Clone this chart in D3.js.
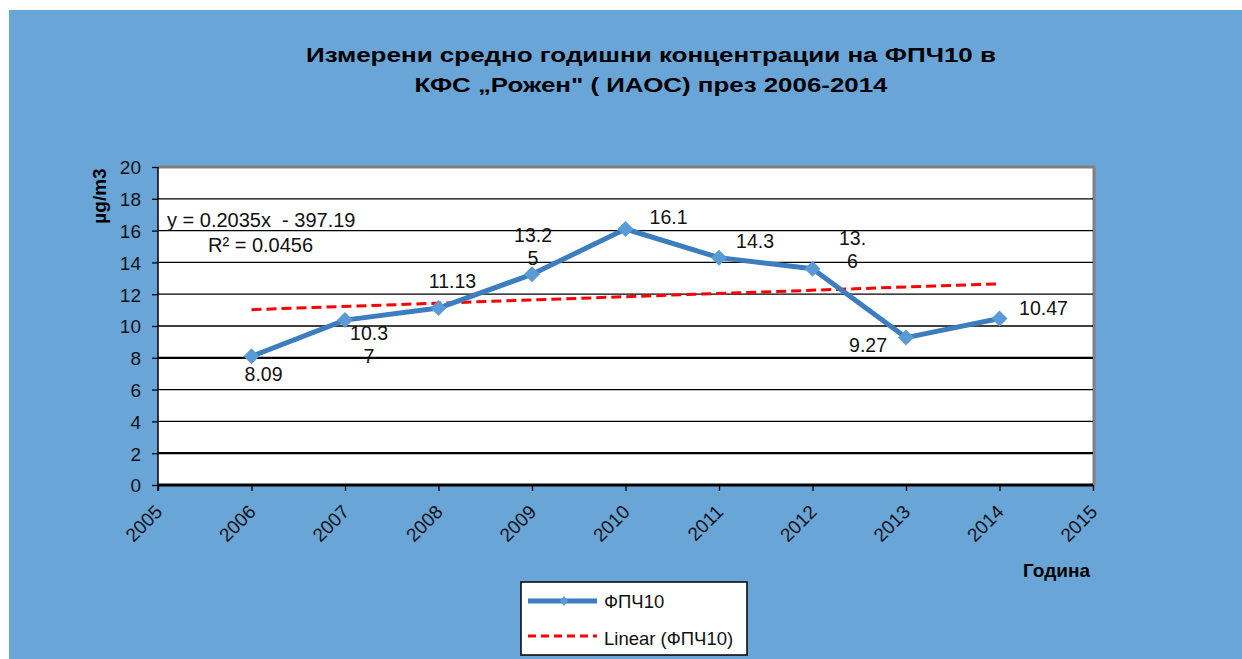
<!DOCTYPE html>
<html>
<head>
<meta charset="utf-8">
<script src="https://cdn.jsdelivr.net/npm/d3@7"></script>
<style>
  body { margin: 0; background: #fff; }
  text { font-family: "Liberation Sans", Arial, sans-serif; }
</style>
</head>
<body>
<script>
var width = 1242,
    height = 659;

var years = [2006, 2007, 2008, 2009, 2010, 2011, 2012, 2013, 2014];
var values = [8.09, 10.37, 11.13, 13.25, 16.1, 14.3, 13.6, 9.27, 10.47];
// labels as Excel wrapped them
var labelLines = [['8.09'], ['10.3', '7'], ['11.13'], ['13.2', '5'], ['16.1'], ['14.3'], ['13.', '6'], ['9.27'], ['10.47']];
var labelOffsets = [[12, 25], [24, 20], [14, -20], [1, -32], [43, -5], [36, -10], [40, -24], [-38, 14], [44, -4]];
var xTicks = [2005, 2006, 2007, 2008, 2009, 2010, 2011, 2012, 2013, 2014, 2015];
var yTicks = [0, 2, 4, 6, 8, 10, 12, 14, 16, 18, 20];
var titleLines = ['Измерени средно годишни концентрации на ФПЧ10 в', 'КФС „Рожен" ( ИАОС) през 2006-2014'];

var svg = d3.select('body')
    .append('svg')
    .attr('width', width)
    .attr('height', height)

svg.append('rect')
  .attr('x', 9).attr('y', 10)
  .attr('width', width - 9).attr('height', height - 10)
  .attr('fill', '#69a5d7');

var x = d3.scaleLinear().domain([2005, 2015]).range([158, 1093]);
var y = d3.scaleLinear().domain([0, 20]).range([485, 167]);

// title
svg.selectAll('.title')
  .data(titleLines)
  .enter().append('text')
  .attr('x', 651)
  .attr('y', function(d, i) { return 62 + i * 30; })
  .attr('text-anchor', 'middle')
  .attr('font-size', 21)
  .attr('font-weight', 'bold')
  .attr('textLength', function(d, i) { return i == 0 ? 690 : 473; })
  .attr('lengthAdjust', 'spacingAndGlyphs')
  .text(function(d) { return d; });

// plot area
svg.append('rect')
  .attr('x', x(2005)).attr('y', y(20))
  .attr('width', x(2015) - x(2005)).attr('height', y(0) - y(20))
  .attr('fill', '#fff');

svg.append('path')
  .attr('d', 'M' + x(2005) + ',' + y(20) + 'H' + (x(2015) + 1) + 'V' + y(0))
  .attr('fill', 'none')
  .attr('stroke', '#808080')
  .attr('stroke-width', 3);

svg.selectAll('.grid')
  .data(yTicks.slice(1, -1))
  .enter().append('line')
  .attr('x1', x(2005)).attr('x2', x(2015))
  .attr('y1', function(d) { return y(d); })
  .attr('y2', function(d) { return y(d); })
  .attr('stroke', '#000')
  .attr('stroke-width', function(d) { return d == 8 || d == 2 ? 2.2 : 1.3; });

// axes
var yAxis = svg.append('g')
  .attr('transform', 'translate(' + x(2005) + ',0)')
  .call(d3.axisLeft(y).tickValues(yTicks).tickSize(6).tickPadding(11).tickFormat(d3.format('d')));
yAxis.select('.domain').attr('stroke-width', 1.5).attr('d', 'M0,' + y(20) + 'V' + (y(0) + 6));
yAxis.selectAll('.tick line').attr('stroke-width', 1.3);
yAxis.selectAll('text').attr('font-size', 19).attr('fill', '#111').attr('font-family', '"Liberation Sans", Arial').attr('dy', '0.36em');

var xAxis = svg.append('g')
  .attr('transform', 'translate(0,' + y(0) + ')')
  .call(d3.axisBottom(x).tickValues(xTicks).tickSize(6).tickFormat(d3.format('d')));
xAxis.select('.domain').attr('stroke-width', 3).attr('d', 'M' + x(2005) + ',0H' + x(2015));
xAxis.selectAll('.tick line').attr('stroke-width', 1.3);
xAxis.selectAll('text')
  .attr('font-size', 19)
  .attr('fill', '#111')
  .attr('font-family', '"Liberation Sans", Arial')
  .attr('text-anchor', 'end')
  .attr('y', 0)
  .attr('dy', 0)
  .attr('transform', 'translate(5,28) rotate(-45)');

// axis titles
svg.append('text')
  .attr('transform', 'translate(106,196) rotate(-90)')
  .attr('text-anchor', 'middle')
  .attr('font-size', 19)
  .attr('font-weight', 'bold')
  .text('µg/m3');

svg.append('text')
  .attr('x', 1090).attr('y', 577)
  .attr('text-anchor', 'end')
  .attr('font-size', 19)
  .attr('font-weight', 'bold')
  .text('Година');

// linear trend
var xm = d3.mean(years), ym = d3.mean(values);
var slope = d3.sum(years, function(d, i) { return (d - xm) * (values[i] - ym); }) /
            d3.sum(years, function(d) { return (d - xm) * (d - xm); });
var intercept = ym - slope * xm;

svg.append('line')
  .attr('x1', x(years[0])).attr('y1', y(slope * years[0] + intercept))
  .attr('x2', x(years[years.length - 1])).attr('y2', y(slope * years[years.length - 1] + intercept))
  .attr('stroke', '#ff0000')
  .attr('stroke-width', 3)
  .attr('stroke-dasharray', '10,5');

svg.append('text')
  .attr('x', 167).attr('y', 227)
  .attr('font-size', 20)
  .attr('fill', '#111')
  .attr('xml:space', 'preserve')
  .text('y = 0.2035x  - 397.19');
svg.append('text')
  .attr('x', 208).attr('y', 252)
  .attr('font-size', 20)
  .attr('fill', '#111')
  .text('R² = 0.0456');

// series
var line = d3.line()
  .x(function(d, i) { return x(years[i]); })
  .y(function(d) { return y(d); });

svg.append('path')
  .datum(values)
  .attr('d', line)
  .attr('fill', 'none')
  .attr('stroke', '#3c7dbf')
  .attr('stroke-width', 5)
  .attr('stroke-linejoin', 'round');

var diamond = d3.symbol().type(d3.symbolSquare).size(128);
svg.selectAll('.pt')
  .data(values)
  .enter().append('path')
  .attr('d', diamond)
  .attr('transform', function(d, i) { return 'translate(' + x(years[i]) + ',' + y(d) + ') rotate(45)'; })
  .attr('fill', '#5b9bd5');

// data labels
var lbl = svg.selectAll('.lbl')
  .data(values)
  .enter().append('text')
  .attr('font-size', 19.5)
  .attr('fill', '#111')
  .attr('text-anchor', 'middle')
  .attr('transform', function(d, i) {
    return 'translate(' + (x(years[i]) + labelOffsets[i][0]) + ',' + (y(d) + labelOffsets[i][1]) + ')';
  });
lbl.selectAll('tspan')
  .data(function(d, i) { return labelLines[i]; })
  .enter().append('tspan')
  .attr('x', 0)
  .attr('dy', function(d, j) { return j == 0 ? 0 : 23; })
  .text(function(d) { return d; });

// legend
var legend = svg.append('g');
legend.append('rect')
  .attr('x', 521).attr('y', 582)
  .attr('width', 226).attr('height', 73)
  .attr('fill', '#fff')
  .attr('stroke', '#000')
  .attr('stroke-width', 1.5);
legend.append('line')
  .attr('x1', 528).attr('x2', 597).attr('y1', 601).attr('y2', 601)
  .attr('stroke', '#3c7dbf').attr('stroke-width', 5);
legend.append('path')
  .attr('d', diamond)
  .attr('transform', 'translate(564,601) scale(0.5,0.62) rotate(45)')
  .attr('fill', '#5b9bd5');
legend.append('text')
  .attr('x', 604).attr('y', 608)
  .attr('font-size', 18.5)
  .attr('fill', '#111')
  .text('ФПЧ10');
legend.append('line')
  .attr('x1', 528).attr('x2', 597).attr('y1', 636).attr('y2', 636)
  .attr('stroke', '#ff0000').attr('stroke-width', 3)
  .attr('stroke-dasharray', '8,5');
legend.append('text')
  .attr('x', 604).attr('y', 645)
  .attr('font-size', 18.5)
  .attr('fill', '#111')
  .text('Linear (ФПЧ10)');
</script>
</body>
</html>
